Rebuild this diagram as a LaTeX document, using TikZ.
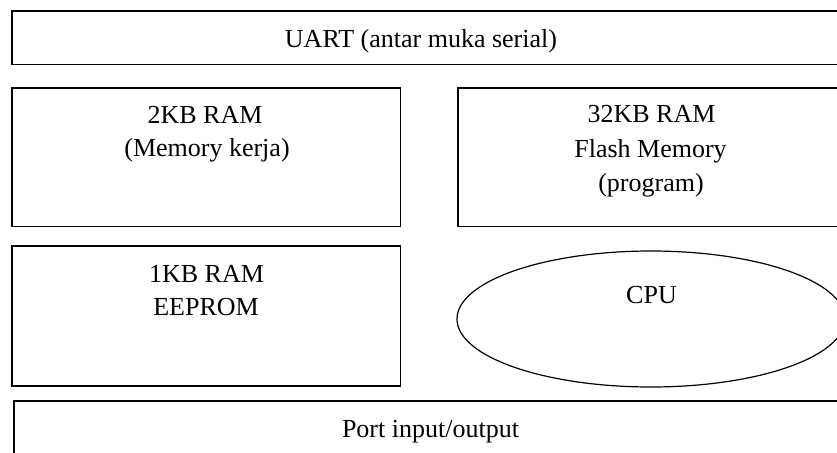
\documentclass[tikz,border=0pt]{standalone}
\usepackage{fontspec}
\setmainfont{Liberation Serif}
\definecolor{c000000}{RGB}{0,0,0}
\tikzset{
  blok/.style={draw=c000000,line cap=butt,line join=miter,line width=1.8pt},
  tulisan/.style={text=c000000,anchor=base,inner sep=0pt,outer sep=0pt,
    font=\fontsize{26}{33}\selectfont}
}

\begin{document}
\begin{tikzpicture}[x=1pt, y=-1pt]
  \useasboundingbox (0, 0) rectangle (837, 452);
  \clip (0, 0) rectangle (837, 452);
  \path[fill=white] (0, 0) rectangle (837, 452);



  % kotak-kotak
  \path[blok] (12, 11) rectangle (846, 64.5);

  \path[blok] (12, 88) rectangle (400.5, 226.5);

  \path[blok] (458.3, 88) rectangle (846, 226.5);

  \path[blok] (12, 246) rectangle (400.5, 386);

  \path[blok] (14, 401) rectangle (848, 470);

  \path[draw=c000000,line width=1.2pt] (651, 319) ellipse [x radius=194, y radius=68];



  \node[tulisan] (uart) at (421, 48){UART (antar muka serial)};

  \node[tulisan] (ram2kb) at (205, 123){2KB RAM};
  \node[tulisan] (kerja) at (207, 156.5){(Memory kerja)};

  \node[tulisan] (ram32kb) at (651.5, 122.7){32KB RAM};
  \node[tulisan] (flash) at (650.5, 157.5){Flash Memory};
  \node[tulisan] (program) at (651, 191){(program)};

  \node[tulisan] (ram1kb) at (206.5, 282.7){1KB RAM};
  \node[tulisan] (eeprom) at (206, 315){EEPROM};

  \node[tulisan] (cpu) at (651.5, 303){CPU};

  \node[tulisan] (port) at (430.5, 437){Port input/output};
\end{tikzpicture}
\end{document}
